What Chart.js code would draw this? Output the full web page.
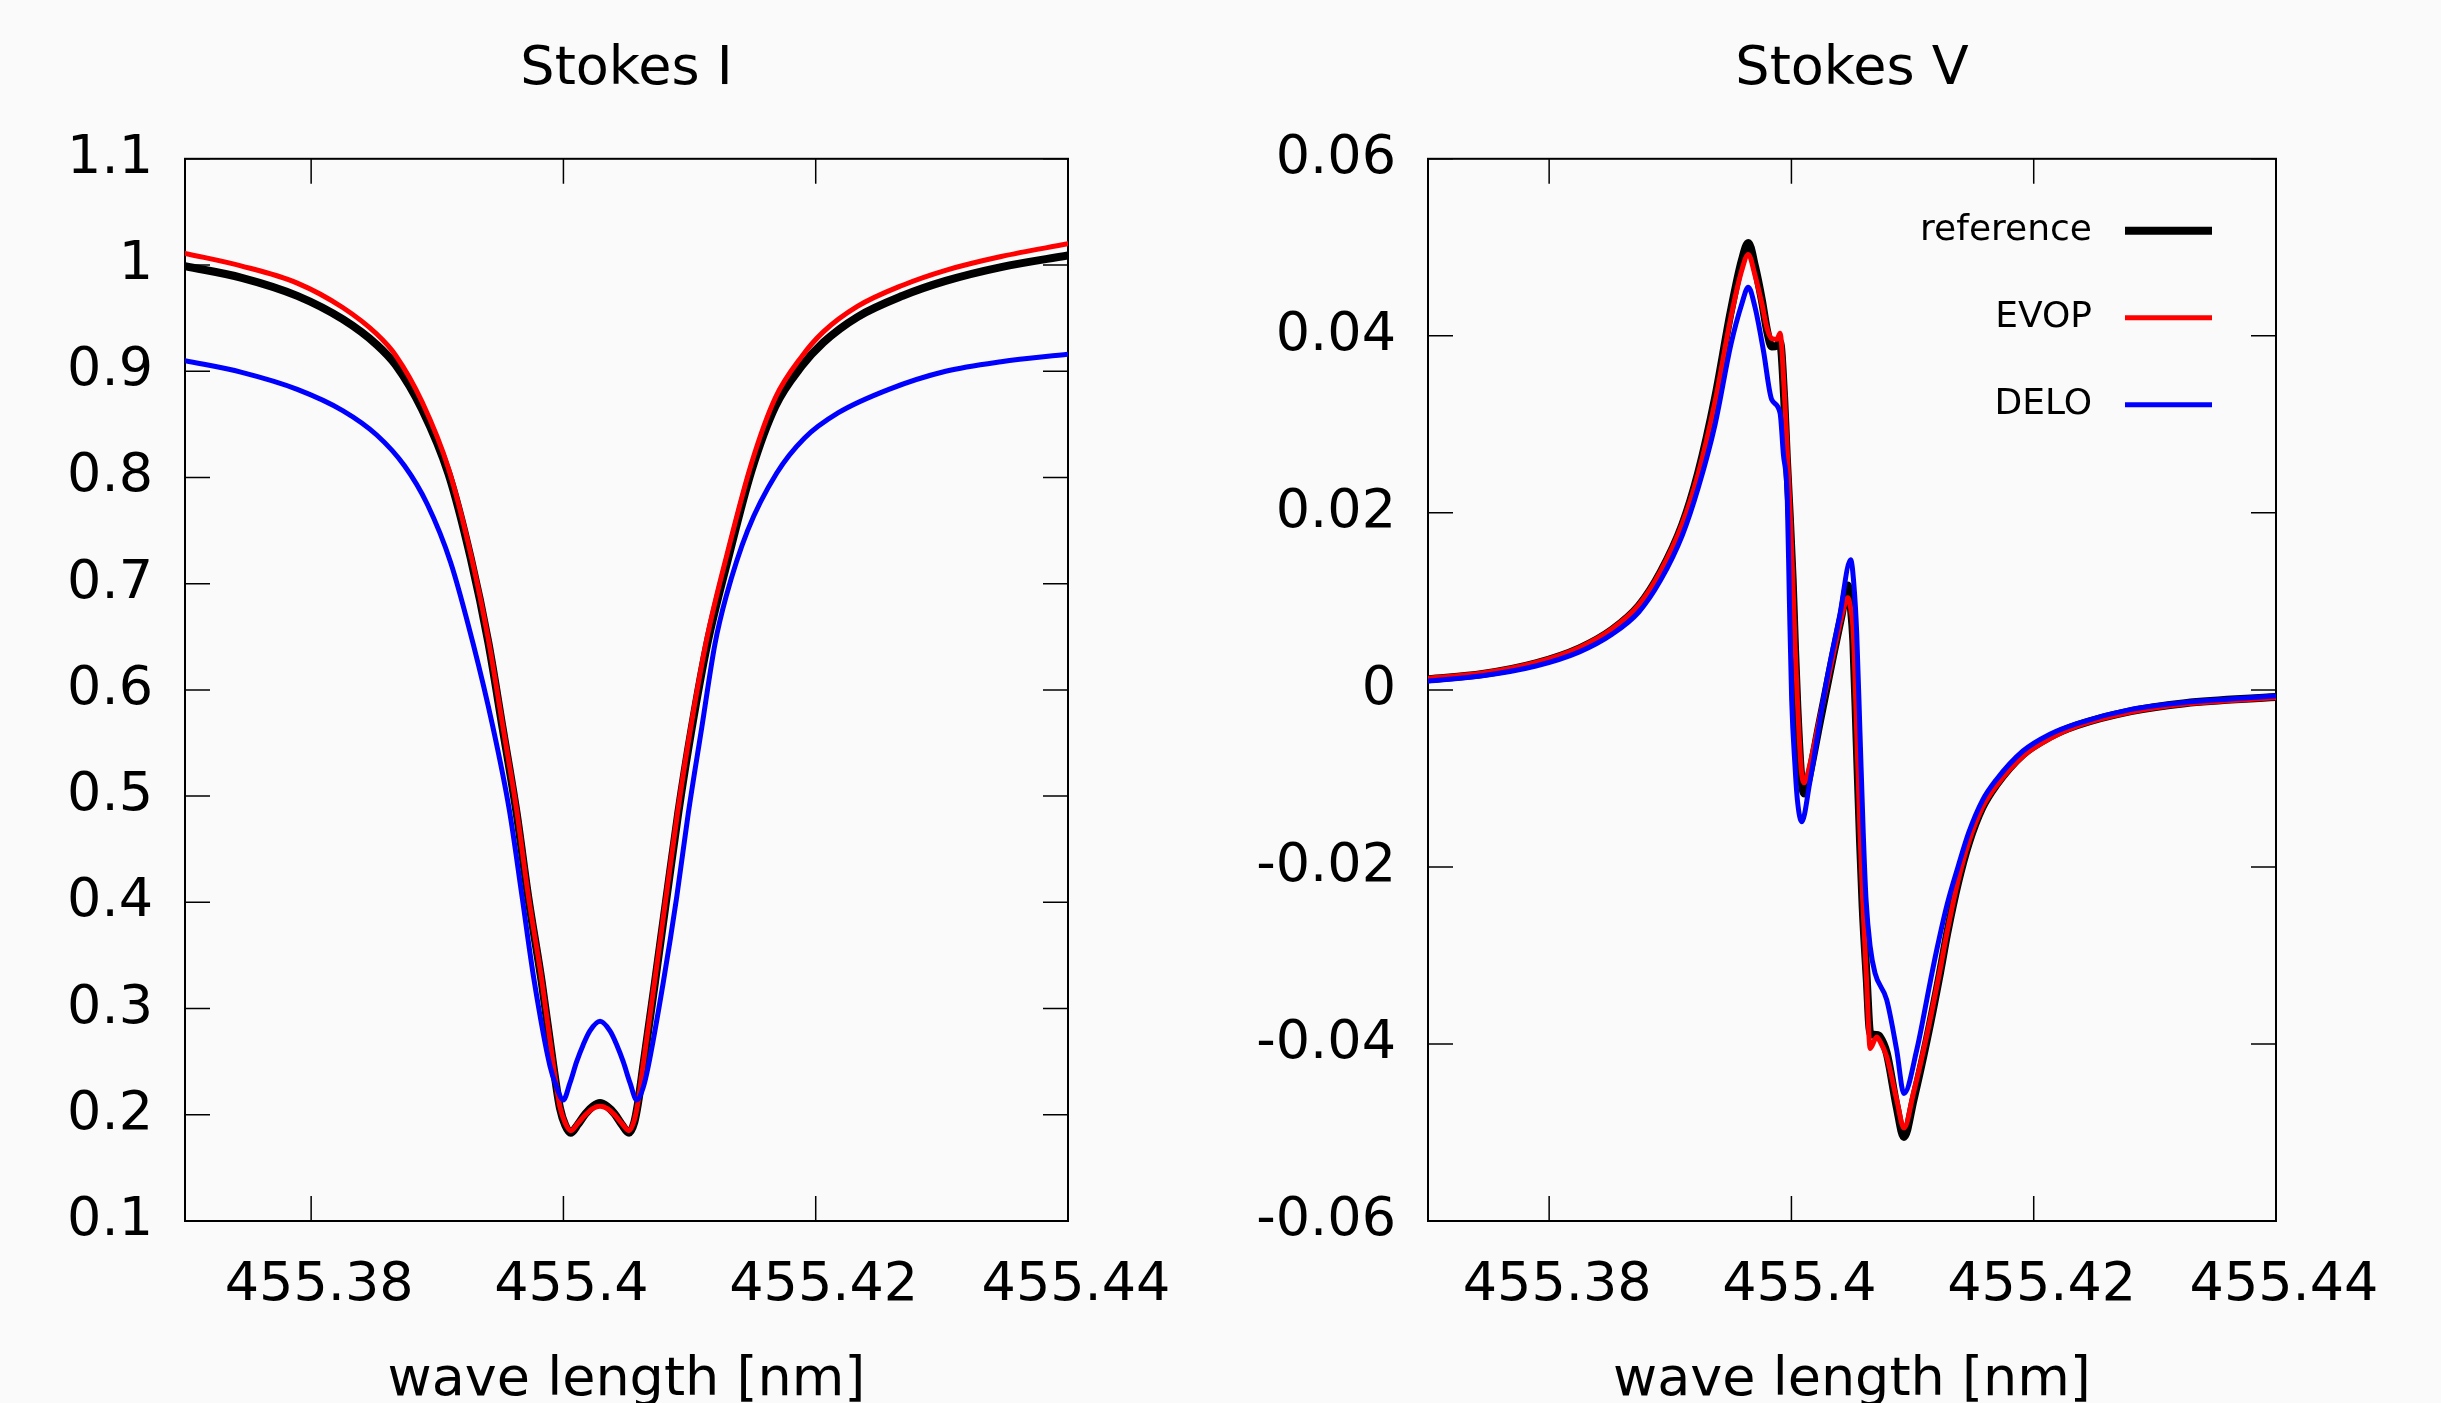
<!DOCTYPE html>
<html>
<head>
<meta charset="utf-8">
<script src="https://cdn.jsdelivr.net/npm/chart.js@4.4.1/dist/chart.umd.min.js"></script>
<style>
  html, body { margin: 0; padding: 0; background: #fafafa; }
  #wrap { position: relative; width: 2441px; height: 1403px; overflow: hidden; }
  canvas { position: absolute; top: 0; }
</style>
</head>
<body>
<div id="wrap">
  <canvas id="chartI" width="1220" height="1403" style="left:0px"></canvas>
  <canvas id="chartV" width="1221" height="1403" style="left:1220px"></canvas>
</div>
<script>
// ************************************
// DATA
// ************************************

var tickWave = [455.38, 455.40, 455.42, 455.44];
var tickI = [0.1, 0.2, 0.3, 0.4, 0.5, 0.6, 0.7, 0.8, 0.9, 1.0, 1.1];
var tickV = [-0.06, -0.04, -0.02, 0, 0.02, 0.04, 0.06];

// Stokes I - reference and EVOP share the same wavelengths
var waveI = [455.3700, 455.3745, 455.3789, 455.3825, 455.3852, 455.3867, 455.3888, 455.3909,
  455.39265, 455.39404, 455.39518, 455.39629, 455.39721, 455.39828, 455.39920, 455.39973,
  455.40015, 455.40057, 455.40115, 455.40175, 455.40235, 455.40290, 455.40345, 455.40405,
  455.40462, 455.40520, 455.40562, 455.40590, 455.40633, 455.40726, 455.40818, 455.40910,
  455.41017, 455.41140, 455.41302, 455.4149, 455.4168, 455.4189, 455.4206, 455.4233,
  455.4269, 455.4303, 455.4347, 455.4400];
var iReference = [0.999, 0.988, 0.971, 0.949, 0.925, 0.906, 0.864, 0.803,
  0.724, 0.645, 0.564, 0.484, 0.405, 0.325, 0.246, 0.206,
  0.190, 0.183, 0.191, 0.201, 0.208, 0.211, 0.208, 0.201,
  0.191, 0.183, 0.193, 0.210, 0.246, 0.325, 0.405, 0.484,
  0.564, 0.643, 0.722, 0.806, 0.867, 0.905, 0.927, 0.951,
  0.971, 0.985, 0.998, 1.009];
var iEvop = [1.011, 0.999, 0.983, 0.960, 0.935, 0.915, 0.871, 0.808,
  0.728, 0.648, 0.567, 0.487, 0.407, 0.327, 0.247, 0.207,
  0.192, 0.185, 0.192, 0.200, 0.206, 0.208, 0.206, 0.200,
  0.192, 0.185, 0.195, 0.211, 0.248, 0.328, 0.409, 0.489,
  0.570, 0.650, 0.730, 0.813, 0.875, 0.914, 0.937, 0.961,
  0.981, 0.995, 1.008, 1.020];

// Stokes I - DELO
var waveIDelo = [455.3700, 455.3745, 455.3789, 455.3825, 455.3852, 455.3874, 455.3892, 455.39106,
  455.39285, 455.39439, 455.39571, 455.39669, 455.39767, 455.39893, 455.39946, 455.39999,
  455.40052, 455.40105, 455.40157, 455.40210, 455.40290, 455.40369, 455.40422, 455.40474,
  455.40528, 455.40581, 455.40633, 455.40673, 455.40792, 455.40898, 455.40990, 455.41096,
  455.41201, 455.4129, 455.4146, 455.4169, 455.4191, 455.4218, 455.4258, 455.4303,
  455.4347, 455.4400];
var iDelo = [0.910, 0.899, 0.883, 0.863, 0.840, 0.811, 0.775, 0.720,
  0.643, 0.566, 0.487, 0.408, 0.327, 0.246, 0.226, 0.214,
  0.230, 0.250, 0.266, 0.279, 0.288, 0.279, 0.266, 0.250,
  0.230, 0.214, 0.226, 0.246, 0.325, 0.405, 0.484, 0.564,
  0.643, 0.688, 0.750, 0.804, 0.837, 0.861, 0.883, 0.900,
  0.909, 0.916];

// Stokes V - reference and EVOP share the same wavelengths
var waveV = [455.3700, 455.3745, 455.3789, 455.3825, 455.3852, 455.3874, 455.3892, 455.3910,
  455.3923, 455.3937, 455.3950, 455.3959, 455.39644, 455.39700, 455.39755, 455.39800,
  455.39837, 455.39880, 455.39906, 455.39940, 455.39962, 455.39985, 455.40010, 455.40030,
  455.40049, 455.40079, 455.40104, 455.40125, 455.40236, 455.40346, 455.40415, 455.40465,
  455.40489, 455.40511, 455.40539, 455.40566, 455.40588, 455.40621, 455.40650, 455.40704,
  455.40731, 455.40786, 455.40869, 455.40929, 455.41008, 455.41118, 455.41226, 455.41286,
  455.41375, 455.41464, 455.41576, 455.41688, 455.41911, 455.42134, 455.42357, 455.42804,
  455.43250, 455.44000];
var vReference = [0.0012, 0.0018, 0.0030, 0.0047, 0.0068, 0.0095, 0.0133, 0.0187,
  0.0245, 0.0330, 0.0428, 0.0485, 0.0505, 0.0478, 0.0441, 0.0405,
  0.0388, 0.0389, 0.0393, 0.0330, 0.0262, 0.0200, 0.0125, 0.0045,
  -0.0020, -0.0095, -0.0117, -0.0110, -0.0035, 0.0040, 0.0085, 0.0118,
  0.0095, 0.0055, -0.0060, -0.0170, -0.0245, -0.0325, -0.0388, -0.0390,
  -0.0392, -0.0410, -0.0471, -0.0505, -0.0463, -0.0395, -0.0320, -0.0275,
  -0.0218, -0.0173, -0.0133, -0.0108, -0.0073, -0.0053, -0.0040, -0.0024,
  -0.0015, -0.0008];
var vEvop = [0.0013, 0.0019, 0.0031, 0.0048, 0.0069, 0.0096, 0.0134, 0.0188,
  0.0244, 0.0326, 0.0421, 0.0474, 0.0492, 0.0468, 0.0437, 0.0408,
  0.0397, 0.0396, 0.0403, 0.0340, 0.0280, 0.0215, 0.0130, 0.0050,
  -0.0011, -0.0087, -0.0105, -0.0099, -0.0030, 0.0040, 0.0083, 0.0104,
  0.0092, 0.0064, -0.0049, -0.0162, -0.0237, -0.0330, -0.0405, -0.0392,
  -0.0397, -0.0414, -0.0463, -0.0495, -0.0455, -0.0390, -0.0317, -0.0273,
  -0.0216, -0.0172, -0.0133, -0.0109, -0.0075, -0.0055, -0.0041, -0.0025,
  -0.0016, -0.0009];

// Stokes V - DELO
var waveVDelo = [455.3700, 455.3745, 455.3789, 455.3825, 455.3852, 455.3874, 455.3892, 455.3910,
  455.3923, 455.3937, 455.3950, 455.3959, 455.39644, 455.39700, 455.39768, 455.39837,
  455.39906, 455.39933, 455.39966, 455.39983, 455.40002, 455.40030, 455.40049, 455.40085,
  455.40151, 455.40290, 455.40400, 455.40489, 455.40515, 455.40539, 455.40566, 455.40593,
  455.40616, 455.40650, 455.40690, 455.40786, 455.40869, 455.40929, 455.41034, 455.41144,
  455.41199, 455.41286, 455.41375, 455.41464, 455.41576, 455.41688, 455.41911, 455.42134,
  455.42357, 455.42804, 455.43250, 455.44000];
var vDelo = [0.0010, 0.0016, 0.0027, 0.0043, 0.0063, 0.0088, 0.0124, 0.0175,
  0.0228, 0.0300, 0.0390, 0.0436, 0.0455, 0.0432, 0.0384, 0.0328,
  0.0313, 0.0267, 0.0215, 0.0102, -0.0011, -0.0087, -0.0124, -0.0149,
  -0.0105, 0.0010, 0.0085, 0.0147, 0.0120, 0.0064, -0.0049, -0.0162,
  -0.0237, -0.0290, -0.0320, -0.0350, -0.0407, -0.0456, -0.0407, -0.0331,
  -0.0294, -0.0242, -0.0200, -0.0161, -0.0125, -0.0102, -0.0069, -0.0050,
  -0.0038, -0.0022, -0.0014, -0.0007];

// ************************************
// HELPERS
// ************************************

const FONT = "'DejaVu Sans', sans-serif";

function toPoints(xs, ys) {
  return xs.map((x, i) => ({ x: x, y: ys[i] }));
}

function fmt(v) {
  return String(Number(v.toFixed(2)));
}

function series(label, xs, ys, color, width, order) {
  return {
    label: label,
    data: toPoints(xs, ys),
    borderColor: color,
    backgroundColor: color,
    borderWidth: width,
    pointRadius: 0,
    fill: false,
    cubicInterpolationMode: 'monotone',
    borderJoinStyle: 'round',
    borderCapStyle: 'round',
    order: order,
  };
}

// frame box + inward ticks on all four sides (gnuplot style)
const frameTicks = {
  id: 'frameTicks',
  beforeDatasetsDraw(chart) {
    const { ctx, chartArea: a, scales } = chart;
    const tl = 25;
    ctx.save();
    ctx.strokeStyle = '#000';
    ctx.lineWidth = 2;
    ctx.strokeRect(a.left, a.top, a.right - a.left, a.bottom - a.top);
    ctx.lineWidth = 1.5;
    ctx.beginPath();
    scales.x.ticks.forEach(t => {
      const px = scales.x.getPixelForValue(t.value);
      ctx.moveTo(px, a.bottom); ctx.lineTo(px, a.bottom - tl);
      ctx.moveTo(px, a.top); ctx.lineTo(px, a.top + tl);
    });
    scales.y.ticks.forEach(t => {
      const py = scales.y.getPixelForValue(t.value);
      ctx.moveTo(a.left, py); ctx.lineTo(a.left + tl, py);
      ctx.moveTo(a.right, py); ctx.lineTo(a.right - tl, py);
    });
    ctx.stroke();
    ctx.restore();
  }
};

// legend in the top right corner: text, then line sample
const stokesLegend = {
  id: 'stokesLegend',
  afterDraw(chart) {
    const { ctx, chartArea: a } = chart;
    ctx.save();
    ctx.font = '36px ' + FONT;
    ctx.textAlign = 'right';
    ctx.textBaseline = 'middle';
    chart.data.datasets.forEach((ds, i) => {
      const yy = a.top + 72 + i * 87;
      ctx.fillStyle = '#000';
      ctx.fillText(ds.label, a.right - 184, yy);
      ctx.strokeStyle = ds.borderColor;
      ctx.lineWidth = ds.borderWidth;
      ctx.lineCap = 'butt';
      ctx.beginPath();
      ctx.moveTo(a.right - 151, yy);
      ctx.lineTo(a.right - 64, yy);
      ctx.stroke();
    });
    ctx.restore();
  }
};

function panelOptions(o) {
  return {
    responsive: false,
    animation: false,
    events: [],
    layout: { padding: { left: 0, right: o.padRight, top: 0, bottom: 0 } },
    plugins: {
      legend: { display: false },
      tooltip: { enabled: false },
      title: {
        display: true,
        text: o.title,
        fullSize: false,
        color: '#000',
        font: { family: FONT, size: 54, weight: 'normal', lineHeight: 1.2 },
        padding: { top: 38, bottom: 56 }
      }
    },
    scales: {
      x: {
        type: 'linear',
        min: 455.37,
        max: 455.44,
        grid: { display: false, drawTicks: false },
        border: { display: false },
        afterBuildTicks: s => { s.ticks = tickWave.map(v => ({ value: v })); },
        afterFit: s => { s.height = 182; },
        ticks: {
          color: '#000',
          font: { family: FONT, size: 54, lineHeight: 1.2 },
          padding: 33,
          labelOffset: 8,
          maxRotation: 0,
          autoSkip: false,
          callback: v => fmt(v)
        },
        title: {
          display: true,
          text: 'wave length [nm]',
          color: '#000',
          font: { family: FONT, size: 54, lineHeight: 1 },
          padding: { top: 0, bottom: -5 }
        }
      },
      y: {
        min: o.yMin,
        max: o.yMax,
        grid: { display: false, drawTicks: false },
        border: { display: false },
        afterBuildTicks: s => { s.ticks = o.yTicks.map(v => ({ value: v })); },
        afterFit: s => { s.width = o.axisWidth; },
        ticks: {
          color: '#000',
          font: { family: FONT, size: 54, lineHeight: 1.2 },
          padding: 32,
          autoSkip: false,
          callback: v => fmt(v)
        }
      }
    }
  };
}

// ************************************
// STOKES I
// ************************************

new Chart(document.getElementById('chartI'), {
  type: 'line',
  data: {
    datasets: [
      series('reference', waveI, iReference, '#000000', 8, 3),
      series('EVOP', waveI, iEvop, '#ff0000', 5, 2),
      series('DELO', waveIDelo, iDelo, '#0000ff', 5, 1),
    ]
  },
  options: panelOptions({ title: 'Stokes I', yMin: 0.1, yMax: 1.1, yTicks: tickI, axisWidth: 185, padRight: 152 }),
  plugins: [frameTicks]
});

// ************************************
// STOKES V
// ************************************

new Chart(document.getElementById('chartV'), {
  type: 'line',
  data: {
    datasets: [
      series('reference', waveV, vReference, '#000000', 8, 3),
      series('EVOP', waveV, vEvop, '#ff0000', 5, 2),
      series('DELO', waveVDelo, vDelo, '#0000ff', 5, 1),
    ]
  },
  options: panelOptions({ title: 'Stokes V', yMin: -0.06, yMax: 0.06, yTicks: tickV, axisWidth: 208, padRight: 165 }),
  plugins: [frameTicks, stokesLegend]
});
</script>
</body>
</html>
